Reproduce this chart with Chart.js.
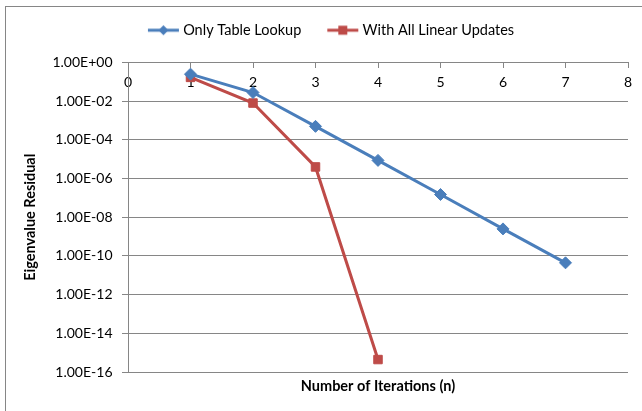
<!DOCTYPE html>
<html>
<head>
<meta charset="utf-8">
<title>Eigenvalue Residual vs Iterations</title>
<script src="https://cdn.jsdelivr.net/npm/chart.js@4.4.1/dist/chart.umd.min.js"></script>
<style>
  body { margin: 0; background: #fff; }
  #wrap { position: relative; width: 642px; height: 411px; overflow: hidden; }
  /* excel-style chart frame, cropped on the right/bottom */
  #frame { position: absolute; left: 5px; top: 6px; width: 700px; height: 500px;
           border-top: 1px solid #868686; border-left: 1px solid #868686; }
  #chart { position: absolute; left: 0; top: 0; }
</style>
</head>
<body>
<div id="wrap">
  <div id="frame"></div>
  <canvas id="chart" width="642" height="411"></canvas>
</div>
<script>
// data
const seriesNames = ['Only Table Lookup', 'With All Linear Updates'];
const lookupIters = [1, 2, 3, 4, 5, 6, 7];
const lookupResidual = [0.25, 2.8e-2, 5e-4, 8.7e-6, 1.5e-7, 2.5e-9, 4.4e-11];
const linearIters = [1, 2, 3, 4];
const linearResidual = [0.17, 8e-3, 4e-6, 4.4e-16];
const xTicks = [0, 1, 2, 3, 4, 5, 6, 7, 8];
const yTicks = [1, 1e-2, 1e-4, 1e-6, 1e-8, 1e-10, 1e-12, 1e-14, 1e-16];

const BLUE = '#4A7EBB';
const RED = '#BE4B48';
const GRID = '#868686';
const tickFont = { family: 'Lato', size: 14 };
const legendFont = { family: 'Lato', size: 14.5 };
const titleFont = { family: 'Lato', size: 14.5, weight: 'bold' };

// 1.00E-02 style labels
function sci(v) {
  const e = Math.round(Math.log10(v));
  const m = v / Math.pow(10, e);
  return m.toFixed(2) + 'E' + (e < 0 ? '-' : '+') + String(Math.abs(e)).padStart(2, '0');
}

// legend swatch: line with marker in the middle
function legendIcon(color, shape) {
  const c = document.createElement('canvas');
  c.width = 52; c.height = 14;
  const g = c.getContext('2d');
  g.strokeStyle = color; g.lineWidth = 3;
  g.beginPath(); g.moveTo(20, 7); g.lineTo(51, 7); g.stroke();
  g.fillStyle = color;
  const cx = 35.5;
  if (shape === 'diamond') {
    g.beginPath();
    g.moveTo(cx, 2); g.lineTo(cx + 5, 7); g.lineTo(cx, 12); g.lineTo(cx - 5, 7);
    g.closePath(); g.fill();
  } else {
    g.fillRect(cx - 4.5, 2.5, 9, 9);
  }
  return c;
}
const icons = [legendIcon(BLUE, 'diamond'), legendIcon(RED, 'square')];

// extra room between legend and plot
const legendGap = {
  id: 'legendGap',
  beforeInit(chart) {
    const fit = chart.legend.fit;
    chart.legend.fit = function () { fit.call(this); this.height += 15; };
  }
};

new Chart(document.getElementById('chart'), {
  type: 'line',
  data: {
    datasets: [
      {
        label: seriesNames[0],
        data: lookupIters.map((x, i) => ({ x: x, y: lookupResidual[i] })),
        borderColor: BLUE,
        backgroundColor: BLUE,
        borderWidth: 3,
        pointStyle: 'rectRot',
        pointRadius: 6,
        pointBorderWidth: 1
      },
      {
        label: seriesNames[1],
        data: linearIters.map((x, i) => ({ x: x, y: linearResidual[i] })),
        borderColor: RED,
        backgroundColor: RED,
        borderWidth: 3,
        pointStyle: 'rect',
        pointRadius: 6,
        pointBorderWidth: 1
      }
    ]
  },
  options: {
    responsive: false,
    animation: false,
    layout: { padding: { top: 13, left: 18, right: 14, bottom: 12 } },
    plugins: {
      tooltip: { enabled: false },
      legend: {
        position: 'top',
        labels: {
          usePointStyle: true,
          pointStyleWidth: 44,
          padding: 10,
          color: '#000',
          font: legendFont,
          generateLabels: chart => chart.data.datasets.map((ds, i) => ({
            text: ds.label,
            pointStyle: icons[i],
            fillStyle: ds.borderColor,
            strokeStyle: ds.borderColor,
            lineWidth: 0,
            fontColor: '#000',
            hidden: false,
            datasetIndex: i
          }))
        }
      }
    },
    scales: {
      x: {
        type: 'linear',
        position: { y: 1 },
        min: 0,
        max: 8,
        afterBuildTicks: s => { s.ticks = xTicks.map(v => ({ value: v })); },
        afterFit: s => { s.height = 0; },
        grid: { drawOnChartArea: false, tickLength: 5, color: GRID },
        border: { color: GRID },
        ticks: { padding: 7, color: '#000', font: tickFont }
      },
      xTitle: {
        type: 'linear',
        position: 'bottom',
        min: 0,
        max: 8,
        ticks: { display: false },
        grid: { display: false, drawTicks: false },
        border: { display: false },
        title: {
          display: true,
          text: 'Number of Iterations (n)',
          color: '#000',
          font: titleFont,
          padding: { top: 5.6, bottom: 4 }
        }
      },
      y: {
        type: 'logarithmic',
        min: 1e-16,
        max: 1,
        afterBuildTicks: s => { s.ticks = yTicks.map(v => ({ value: v })); },
        afterFit: s => { s.width = 110; },
        grid: { color: GRID, tickLength: 6 },
        border: { color: GRID },
        ticks: { padding: 9.5, color: '#000', font: tickFont, callback: v => sci(v) },
        title: {
          display: true,
          text: 'Eigenvalue Residual',
          color: '#000',
          font: titleFont,
          padding: { top: 4, bottom: 0 }
        }
      }
    }
  },
  plugins: [legendGap]
});
</script>
</body>
</html>
